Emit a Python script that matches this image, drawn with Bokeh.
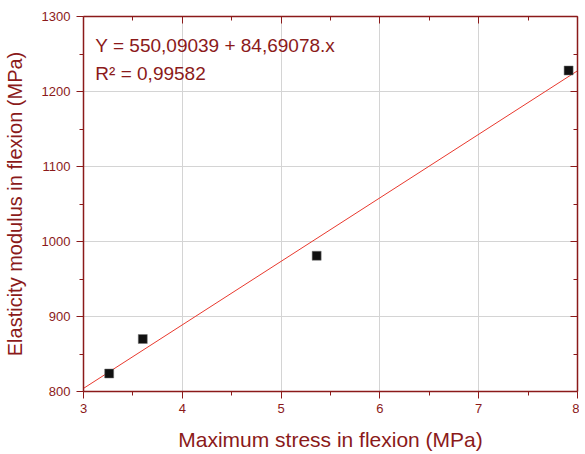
from bokeh.plotting import figure
from bokeh.models import LinearAxis, Label, Range1d, FixedTicker, CustomJSTickFormatter
from bokeh.embed import file_html
from bokeh.resources import INLINE

# Data
stress = [3.26, 3.60, 5.36, 7.91]
modulus = [824, 870, 981, 1228]
fit_intercept = 550.09039
fit_slope = 84.69078
fit_x = [3, 8]
fit_y = [fit_intercept + fit_slope * v for v in fit_x]
x_ticks = [3, 4, 5, 6, 7, 8]
x_minor = [3.5, 4.5, 5.5, 6.5, 7.5]
y_ticks = [800, 900, 1000, 1100, 1200, 1300]
y_minor = [850, 950, 1050, 1150, 1250]

AX = "#8b1a1a"
FONT = "Liberation Sans"

p = figure(frame_width=494, frame_height=375, output_backend="svg", toolbar_location=None,
           x_range=Range1d(3, 8), y_range=Range1d(800, 1300),
           min_border_left=75, min_border_right=2, min_border_top=16, min_border_bottom=60)
p.outline_line_color = None
p.background_fill_color = "white"
p.border_fill_color = "white"

for ax in p.xaxis + p.yaxis:
    ax.axis_line_color = AX
    ax.axis_line_width = 1.5
    ax.major_tick_line_color = AX
    ax.minor_tick_line_color = AX
    ax.major_tick_out = 7
    ax.major_tick_in = 0
    ax.minor_tick_out = 4
    ax.minor_tick_in = 0
    ax.major_label_text_color = AX
    ax.major_label_text_font = FONT
    ax.major_label_text_font_size = "13px"
    ax.axis_label_text_color = AX
    ax.axis_label_text_font = FONT
    ax.axis_label_text_font_style = "normal"

p.xaxis.ticker = FixedTicker(ticks=x_ticks, minor_ticks=x_minor)
p.yaxis.ticker = FixedTicker(ticks=y_ticks, minor_ticks=y_minor)
p.xaxis.axis_label = "Maximum stress in flexion (MPa)"
p.yaxis.axis_label = "Elasticity modulus in flexion (MPa)"
p.xaxis.axis_label_text_font_size = "21px"
p.yaxis.axis_label_text_font_size = "20px"
p.xaxis.major_label_standoff = 5
p.yaxis.major_label_standoff = 6
p.xaxis.axis_label_standoff = 12
p.yaxis.axis_label_standoff = 13

p.xgrid.ticker = FixedTicker(ticks=x_ticks)
p.ygrid.ticker = FixedTicker(ticks=y_ticks)
p.grid.grid_line_color = "#d4d4d4"
p.grid.grid_line_width = 1

blank = CustomJSTickFormatter(code="return '';")
top = LinearAxis(ticker=FixedTicker(ticks=x_ticks, minor_ticks=x_minor), formatter=blank)
right = LinearAxis(ticker=FixedTicker(ticks=y_ticks, minor_ticks=y_minor), formatter=blank)
for ax in (top, right):
    ax.axis_line_color = AX
    ax.axis_line_width = 1.5
    ax.major_tick_line_color = AX
    ax.minor_tick_line_color = AX
    ax.major_tick_in = 7
    ax.major_tick_out = 0
    ax.minor_tick_in = 4
    ax.minor_tick_out = 0
    ax.major_label_text_font_size = "1px"
    ax.major_label_standoff = 0
p.add_layout(top, "above")
p.add_layout(right, "right")

p.line(fit_x, fit_y, line_color="#e8392e", line_width=1)
p.scatter(stress, modulus, marker="square", size=9, fill_color="#111111",
          line_color="#777777", line_width=0.5)

eq = Label(x=3.12, y=1261, text="Y = 550,09039 + 84,69078.x",
           text_font=FONT, text_font_size="19px", text_color=AX,
           text_baseline="middle")
r2 = Label(x=3.12, y=1224, text="R² = 0,99582",
           text_font=FONT, text_font_size="19px", text_color=AX,
           text_baseline="middle")
p.add_layout(eq)
p.add_layout(r2)

open("out.html", "w").write(file_html(p, INLINE))
